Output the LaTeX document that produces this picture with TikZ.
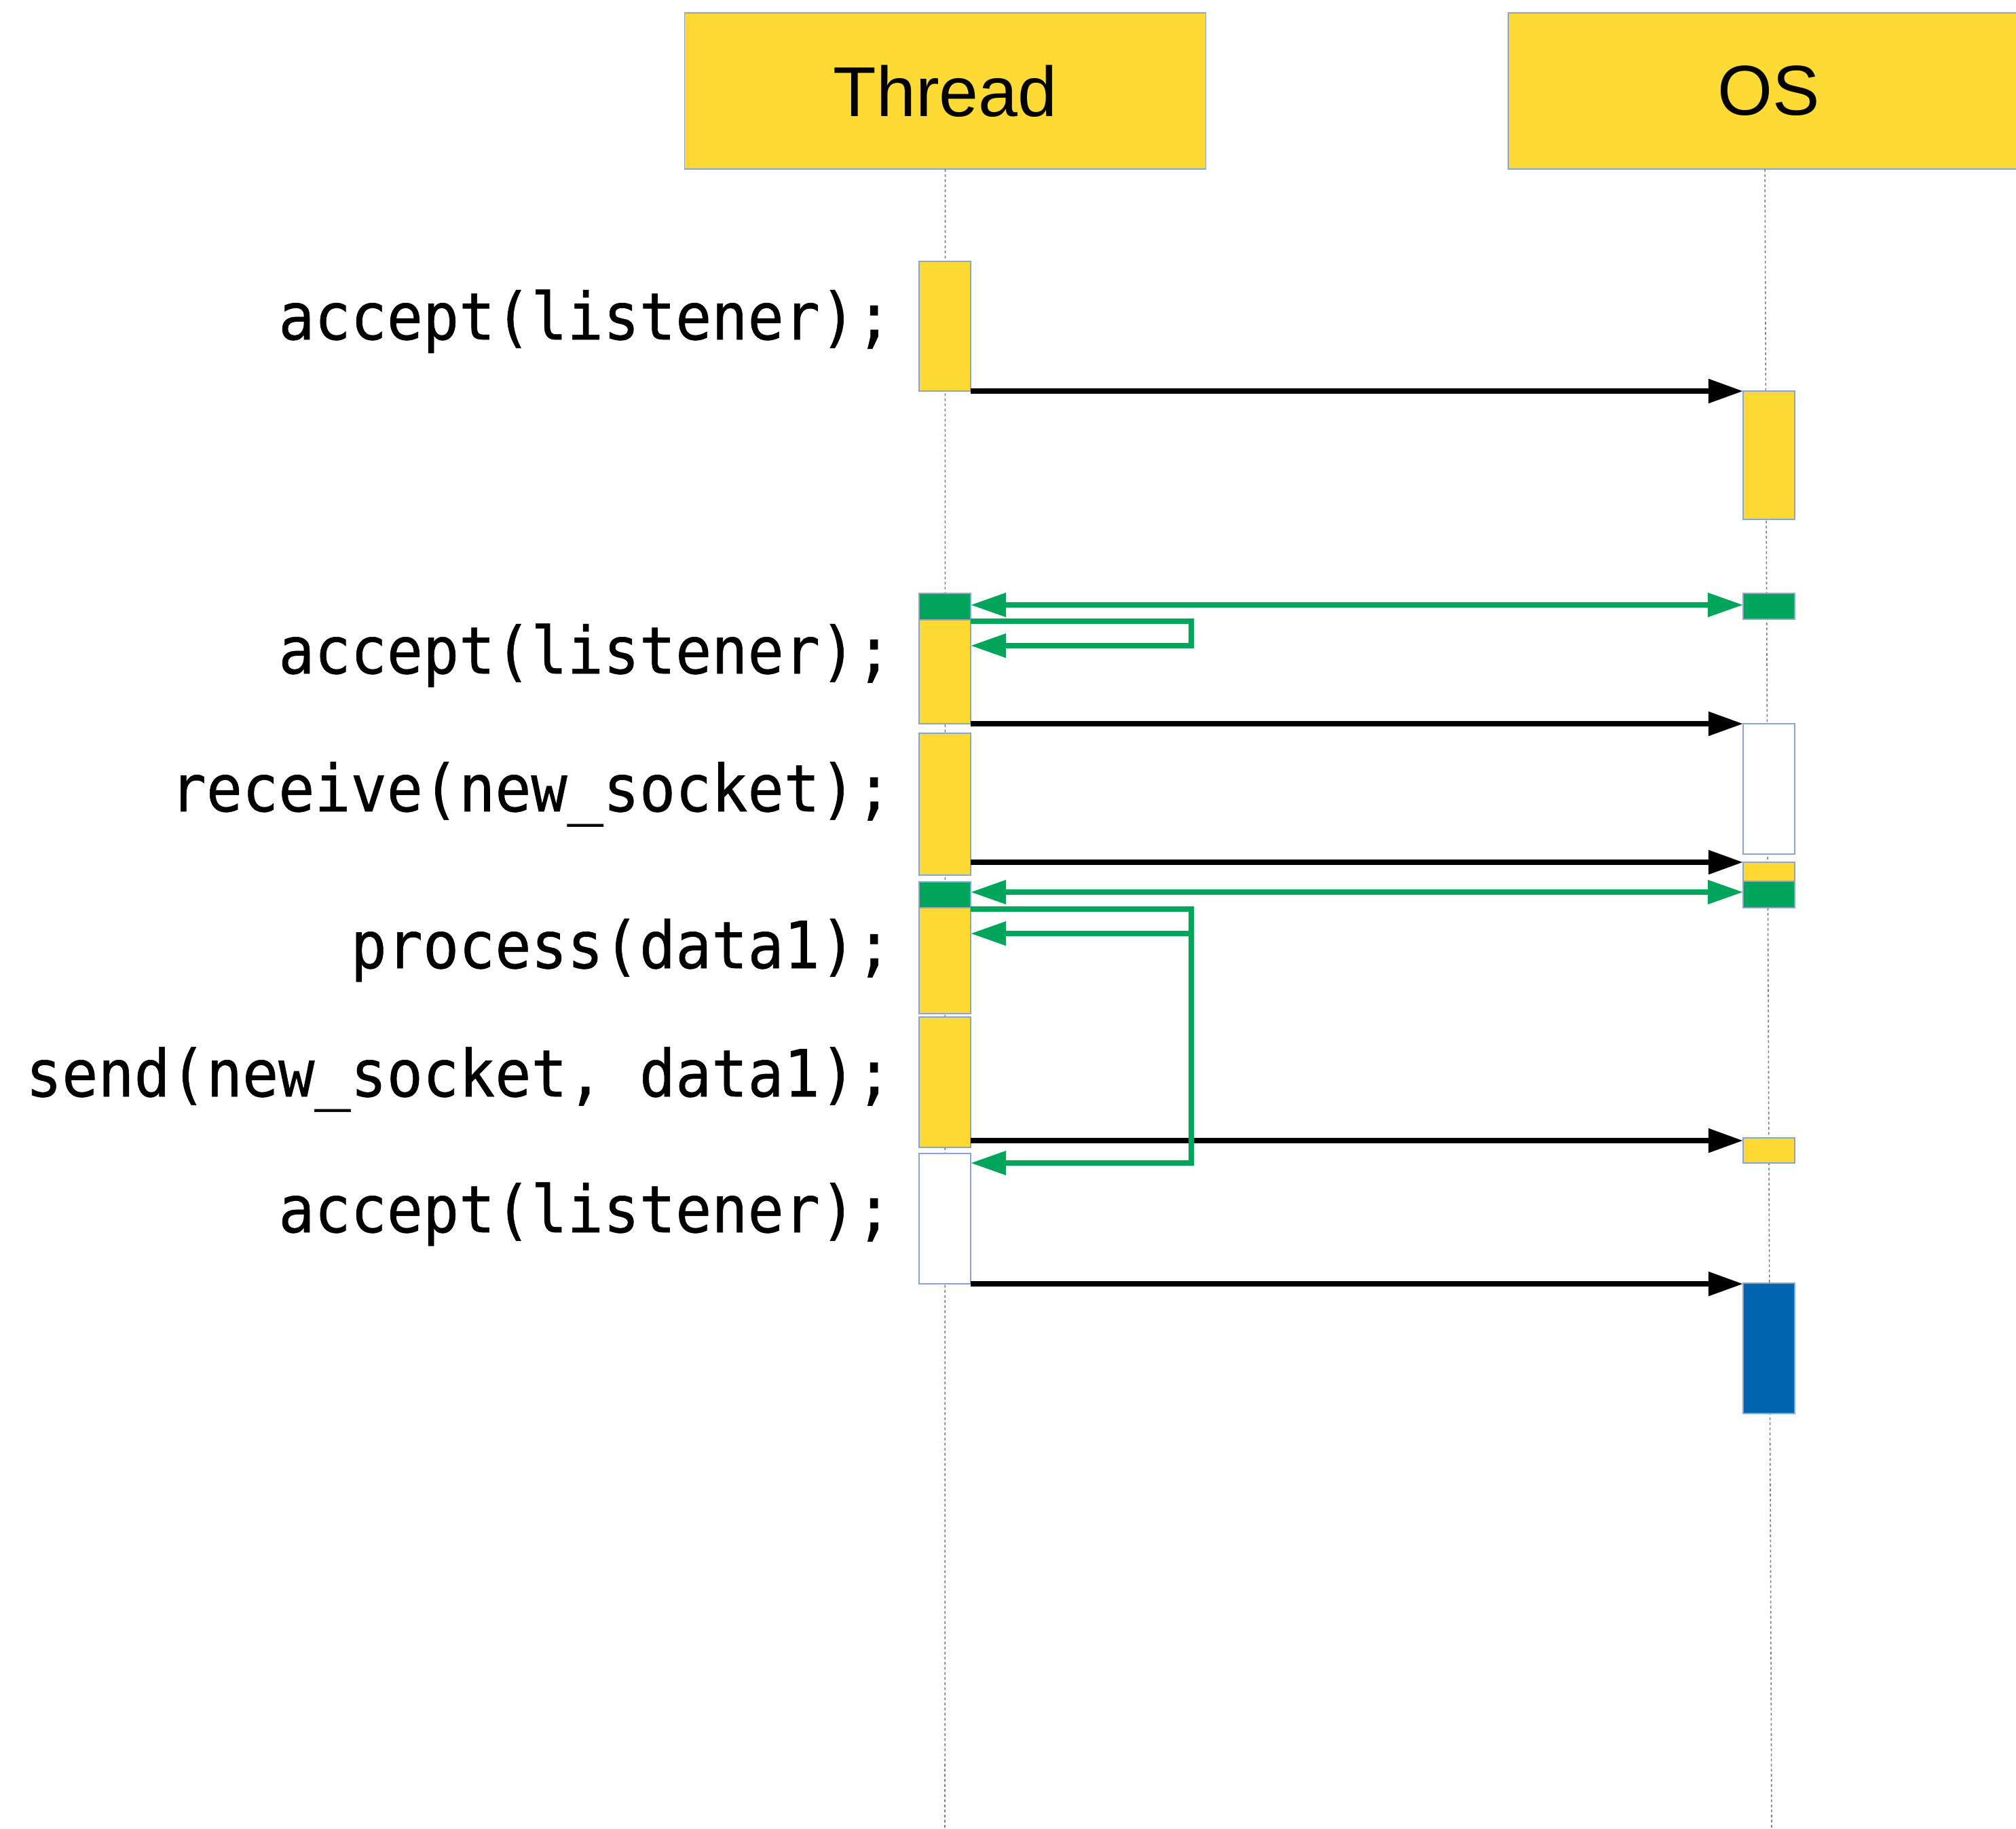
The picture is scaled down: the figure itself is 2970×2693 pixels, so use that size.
\documentclass[tikz,border=0pt]{standalone}
\usepackage{fontspec}
\setmainfont{Liberation Sans}
\newfontfamily\codefont{DejaVu Sans Mono}[FakeStretch=0.92,FakeBold=0.6]
\usetikzlibrary{arrows.meta}

\definecolor{barYellow}{HTML}{FDDA34}
\definecolor{barGreen}{HTML}{00A55C}
\definecolor{barBlue}{HTML}{0064B0}
\definecolor{barEdge}{HTML}{8AA5D2}
\definecolor{lifeGray}{HTML}{7F7F7F}

\begin{document}
\begin{tikzpicture}[x=0.01cm, y=-0.01cm,
  head/.style={draw=barEdge, line width=0.4pt, fill=barYellow,
    minimum width=7.67cm, minimum height=2.30cm, inner sep=0pt, outer sep=0pt,
    font=\fontsize{29.6pt}{34pt}\selectfont},
  bar/.style={draw=barEdge, line width=0.45pt, minimum width=0.76cm,
    inner sep=0pt, outer sep=0pt},
  lifeline/.style={draw=lifeGray, line width=0.45pt, dash pattern=on 0.4mm off 0.35mm},
  code/.style={anchor=base east, inner sep=0pt,
    font=\codefont\fontsize{27.3pt}{32pt}\selectfont},
  msg/.style={draw=black, line width=0.08cm,
    -{Triangle[length=0.51cm,width=0.34cm]}},
  sig/.style={draw=barGreen, line width=0.075cm, line join=miter,
    -{Triangle[length=0.52cm,width=0.34cm]}},
  sigboth/.style={draw=barGreen, line width=0.075cm,
    {Triangle[length=0.52cm,width=0.34cm]}-{Triangle[length=0.52cm,width=0.34cm]}},
]
\path[use as bounding box] (0,0) rectangle (2970,2693);
\clip (0,0) rectangle (2970,2693);

% participants
\node[head] (thread) at (1392.5,134) {Thread};
\node[head] (os) at (2605.5,134) {OS};

% lifelines
\coordinate (threadEnd) at (1392,2693);
\coordinate (osTop) at (2600,249);
\coordinate (osEnd) at (2610,2693);
\draw[lifeline] (thread.south) -- (threadEnd);
\draw[lifeline] (osTop) -- (osEnd);

% activations of the thread
\node[bar, fill=barYellow, minimum height=1.91cm] (t1)  at (1392,480.5) {};
\node[bar, fill=barGreen,  minimum height=0.39cm] (t2g) at (1392,893.5) {};
\node[bar, fill=barYellow, minimum height=1.53cm] (t2)  at (1392,989.5) {};
\node[bar, fill=barYellow, minimum height=2.09cm] (t3)  at (1392,1184.5) {};
\node[bar, fill=barGreen,  minimum height=0.38cm] (t4g) at (1392,1318) {};
\node[bar, fill=barYellow, minimum height=1.56cm] (t4)  at (1392,1415) {};
\node[bar, fill=barYellow, minimum height=1.92cm] (t5)  at (1392,1594) {};
\node[bar, fill=white,     minimum height=1.92cm] (t6)  at (1392,1795) {};

% activations of the OS
\node[bar, fill=barYellow, minimum height=1.89cm] (o1)  at (2606,670.5) {};
\node[bar, fill=barGreen,  minimum height=0.38cm] (o2g) at (2606,893) {};
\node[bar, fill=white,     minimum height=1.92cm] (o3)  at (2606,1162) {};
\node[bar, fill=barYellow, minimum height=0.28cm] (o4)  at (2606,1284) {};
\node[bar, fill=barGreen,  minimum height=0.39cm] (o5g) at (2606,1317.5) {};
\node[bar, fill=barYellow, minimum height=0.37cm] (o6)  at (2606,1694.5) {};
\node[bar, fill=barBlue,   minimum height=1.92cm] (o7)  at (2606,1986) {};

% code lines
\node[code] (c1) at (1315,500)  {accept(listener);};
\node[code] (c2) at (1315,992)  {accept(listener);};
\node[code] (c3) at (1315,1195) {receive(new\_socket);};
\node[code] (c4) at (1315,1426) {process(data1);};
\node[code] (c5) at (1315,1615) {send(new\_socket, data1);};
\node[code] (c6) at (1315,1815) {accept(listener);};

% calls into the OS
\draw[msg] (t1.south east) -- (o1.west |- t1.south east);
\draw[msg] (t2.south east) -- (o3.west |- t2.south east);
\draw[msg] (t3.east |- o4.north) -- (o4.north west);
\draw[msg] (t5.east |- 0,1680) -- (o6.west |- 0,1680);
\draw[msg] (t6.south east) -- (o7.west |- t6.south east);

% wake-up signals
\draw[sigboth] (t2g.east |- 0,891) -- (o2g.west |- 0,891);
\draw[sig] (t2.east |- 0,915) -- (1755,915) |- (t2.east |- 0,951);
\draw[sigboth] (t4g.east |- 0,1314) -- (o5g.west |- 0,1314);
\draw[sig] (t4.east |- 0,1339) -- (1755,1339) |- (t6.east |- 0,1713);
\draw[sig] (1755,1375) -- (t4.east |- 0,1375);
\end{tikzpicture}
\end{document}
